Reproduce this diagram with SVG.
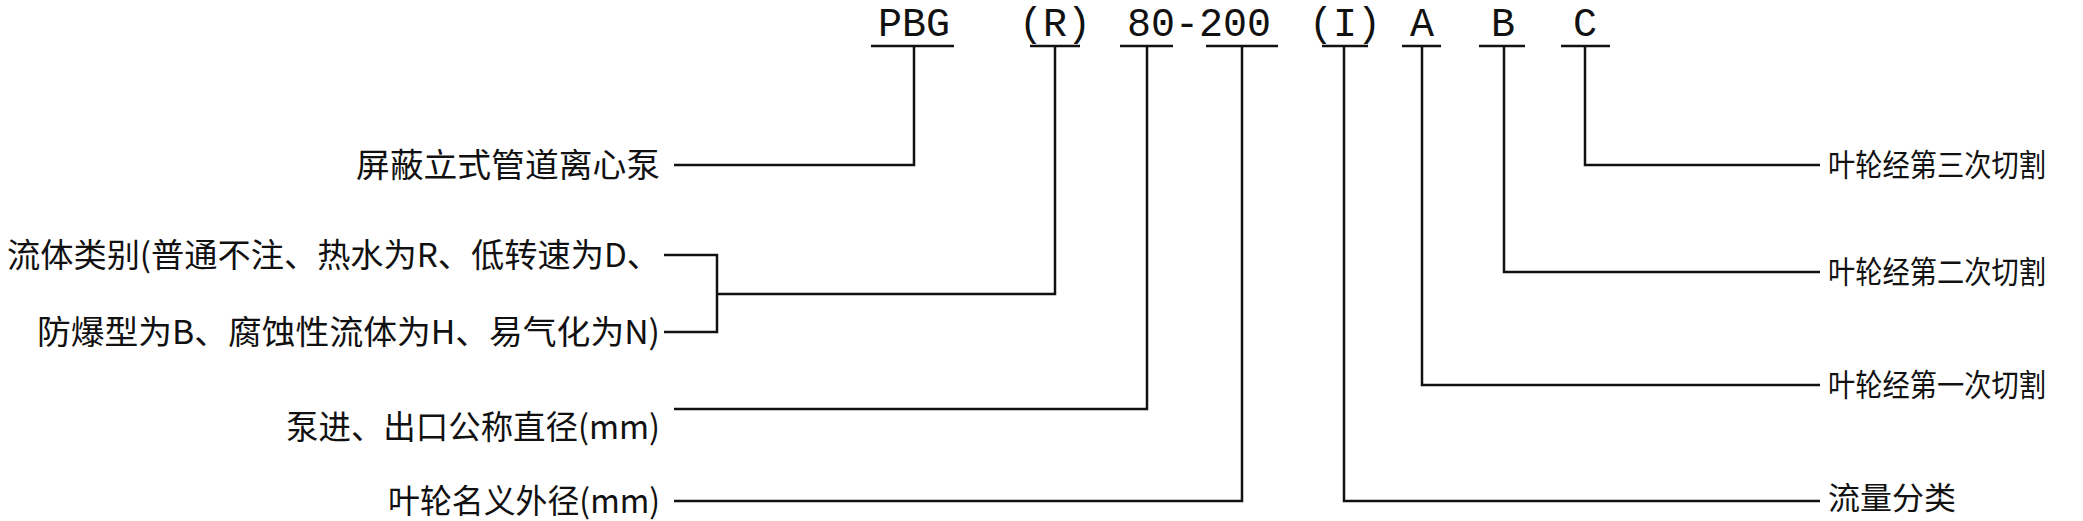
<svg xmlns="http://www.w3.org/2000/svg" width="2083" height="521" viewBox="0 0 2083 521">
<style>
.c{font-family:"Liberation Mono",monospace;font-size:40px;fill:#111;text-anchor:middle}
.l{font-family:"Noto Sans CJK SC","Liberation Sans",sans-serif;font-size:33px;fill:#111}
.r{font-size:31px}
line,polyline{stroke:#111;stroke-width:2.5;fill:none}
</style>
<rect width="2083" height="521" fill="#fff"/>
<g id="code">
<text class="c" x="914" y="36">PBG</text>
<text class="c" x="1055" y="36">(R)</text>
<text class="c" x="1199" y="36">80-200</text>
<text class="c" x="1345" y="36">(I)</text>
<text class="c" x="1422" y="36">A</text>
<text class="c" x="1503" y="36">B</text>
<text class="c" x="1585" y="36">C</text>
</g>
<g id="labels">
<text class="l" x="356" y="177" textLength="304" lengthAdjust="spacingAndGlyphs">屏蔽立式管道离心泵</text>
<text class="l" x="7" y="267" textLength="653" lengthAdjust="spacingAndGlyphs">流体类别(普通不注、热水为R、低转速为D、</text>
<text class="l" x="37" y="344" textLength="623" lengthAdjust="spacingAndGlyphs">防爆型为B、腐蚀性流体为H、易气化为N)</text>
<text class="l" x="286" y="439" textLength="374" lengthAdjust="spacingAndGlyphs">泵进、出口公称直径(mm)</text>
<text class="l" x="388" y="513" textLength="272" lengthAdjust="spacingAndGlyphs">叶轮名义外径(mm)</text>
<text class="l r" x="1828" y="176" textLength="218" lengthAdjust="spacingAndGlyphs">叶轮经第三次切割</text>
<text class="l r" x="1828" y="283" textLength="218" lengthAdjust="spacingAndGlyphs">叶轮经第二次切割</text>
<text class="l r" x="1828" y="396" textLength="218" lengthAdjust="spacingAndGlyphs">叶轮经第一次切割</text>
<text class="l r" x="1828" y="509" textLength="128" lengthAdjust="spacingAndGlyphs">流量分类</text>
</g>
<g id="connectors">
<line x1="871" y1="46" x2="954" y2="46"/>
<line x1="1030" y1="46" x2="1080" y2="46"/>
<line x1="1120" y1="46" x2="1173" y2="46"/>
<line x1="1206" y1="46" x2="1278" y2="46"/>
<line x1="1322" y1="46" x2="1368" y2="46"/>
<line x1="1402" y1="46" x2="1441" y2="46"/>
<line x1="1479" y1="46" x2="1525" y2="46"/>
<line x1="1561" y1="46" x2="1610" y2="46"/>
<polyline points="914,46 914,165 674,165"/>
<polyline points="1055,46 1055,294 717,294"/>
<polyline points="664,255 717,255 717,332 664,332"/>
<polyline points="1147,46 1147,409 674,409"/>
<polyline points="1242,46 1242,501 674,501"/>
<polyline points="1344,46 1344,501 1820,501"/>
<polyline points="1422,46 1422,385 1820,385"/>
<polyline points="1504,46 1504,272 1820,272"/>
<polyline points="1585,46 1585,165 1820,165"/>
</g>
</svg>
